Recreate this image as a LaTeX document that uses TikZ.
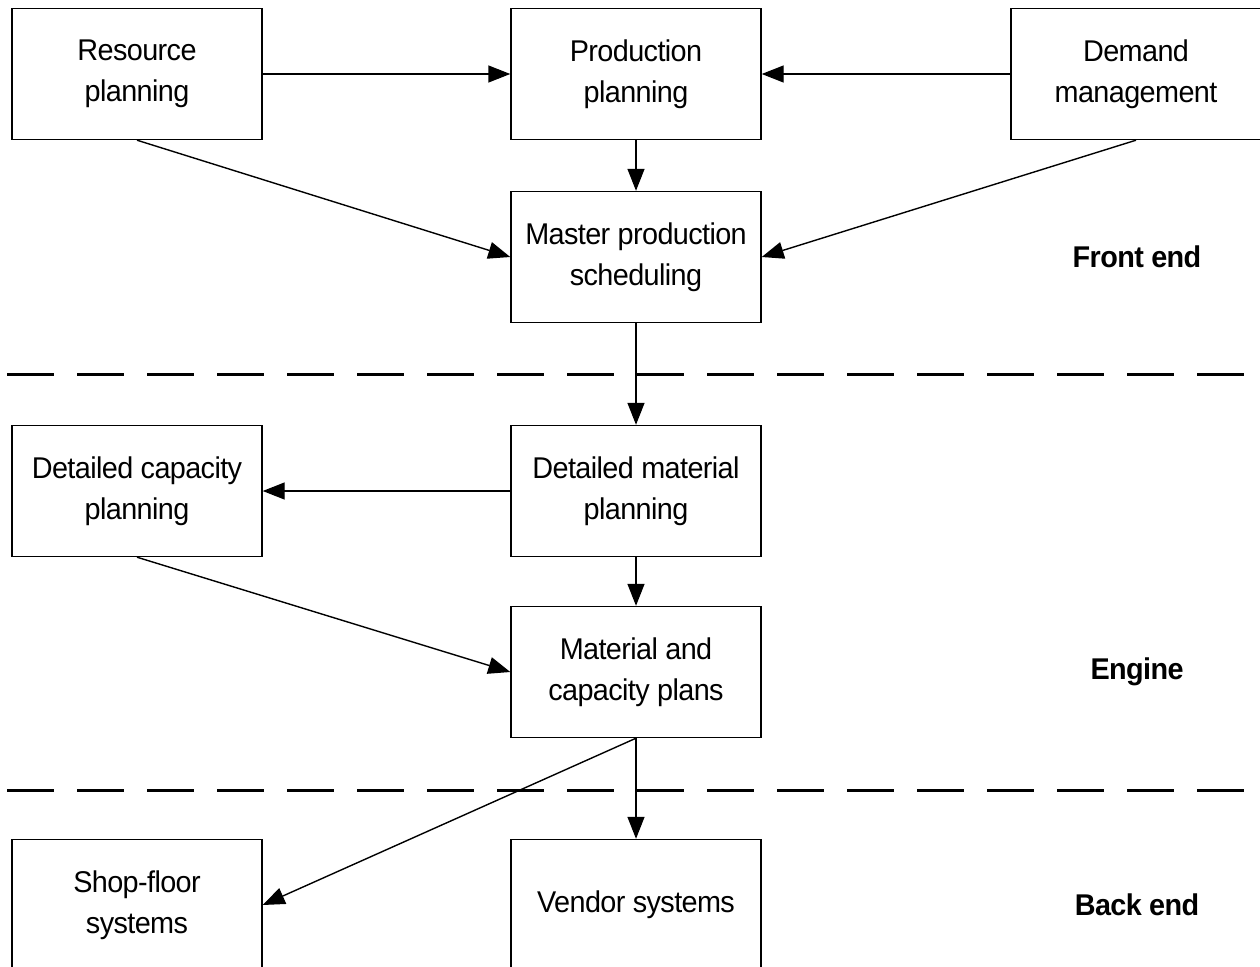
\documentclass[tikz,border=0pt]{standalone}
\usepackage{fontspec}
\setmainfont[FakeStretch=0.96,LetterSpace=-2]{Liberation Sans}
\usetikzlibrary{arrows.meta}
\begin{document}
\begin{tikzpicture}[x=1pt,y=-1pt,
  box/.style={draw, line width=1.4pt, minimum width=250pt, minimum height=131pt, align=center,
    font=\fontsize{30}{40.5}\selectfont, inner sep=0pt},
  conn/.style={line width=1.4pt, -{Triangle[length=22pt,width=17pt]}},
  sepline/.style={line width=3pt, dash pattern=on 47pt off 23pt},
  lbl/.style={font=\fontsize{30}{40}\selectfont\bfseries, inner sep=0pt}]
\useasboundingbox (0,0) rectangle (1260,966);
\clip (0,0) rectangle (1260,966);
% boxes
\node[box] (rp)  at (137,74)   {Resource\\planning};
\node[box] (pp)  at (636,74)   {Production\\planning};
\node[box] (dm)  at (1136,74)  {Demand\\management};
\node[box] (mps) at (636,257)  {Master production\\scheduling};
\node[box] (dcp) at (137,491)  {Detailed capacity\\planning};
\node[box] (dmp) at (636,491)  {Detailed material\\planning};
\node[box] (mcp) at (636,672)  {Material and\\capacity plans};
\node[box] (sfs) at (137,905)  {Shop-floor\\systems};
\node[box] (vs)  at (636,905)  {Vendor systems};
% labels
\node[lbl] (fe) at (1137,257) {Front end};
\node[lbl] (en) at (1137,672) {Engine};
\node[lbl] (be) at (1137,905) {Back end};
% separators
\coordinate (s1a) at (7,374);  \coordinate (s1b) at (1260,374);
\coordinate (s2a) at (7,790);  \coordinate (s2b) at (1260,790);
\draw[sepline] (s1a) -- (s1b);
\draw[sepline] (s2a) -- (s2b);
% connectors
\draw[conn] (rp.east) -- (pp.west);
\draw[conn] (dm.west) -- (pp.east);
\draw[conn] (pp.south) -- (mps.north);
\draw[conn] (rp.south) -- (mps.west);
\draw[conn] (dm.south) -- (mps.east);
\draw[conn] (mps.south) -- (dmp.north);
\draw[conn] (dmp.west) -- (dcp.east);
\draw[conn] (dmp.south) -- (mcp.north);
\draw[conn] (dcp.south) -- (mcp.west);
\draw[conn] (mcp.south) -- (vs.north);
\draw[conn] (mcp.south) -- (sfs.east);
\end{tikzpicture}
\end{document}
